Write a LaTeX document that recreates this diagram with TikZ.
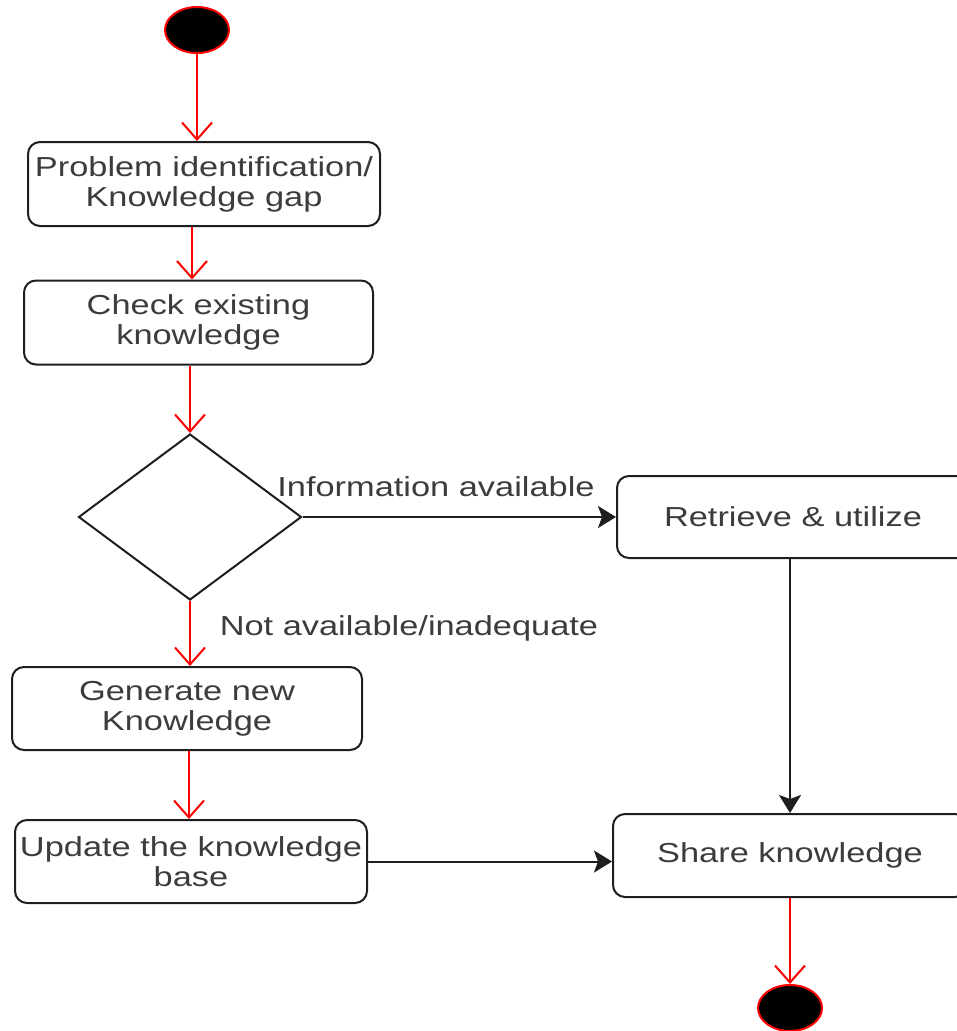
\documentclass[tikz,border=0pt]{standalone}
\usepackage{fontspec}
\setmainfont[FakeStretch=1.25]{Liberation Sans}
\usetikzlibrary{shapes.geometric,arrows.meta}
\definecolor{textgray}{RGB}{60,60,60}
\definecolor{linegray}{RGB}{30,30,30}
\begin{document}
\begin{tikzpicture}[x=1pt,y=-1pt,
  every node/.style={inner sep=0pt},
  txt/.style={text=textgray,font=\fontsize{27.5}{30}\selectfont,align=center},
  act/.style={txt,draw=linegray,line width=2pt,rounded corners=12pt,
              minimum width=#1,minimum height=84pt},
  terminal/.style={ellipse,fill=black,draw=red,line width=2pt,
                   minimum width=64pt,minimum height=46pt},
  decision/.style={diamond,draw=linegray,line width=2pt,
                   minimum width=223pt,minimum height=166pt},
  redflow/.style={draw=red,line width=2pt,-{Straight Barb[length=17pt,width=30pt]}},
  blackflow/.style={draw=linegray,line width=2pt,-{Stealth[length=18pt,width=22pt,inset=4pt]}}
]
\useasboundingbox (0,0) rectangle (957,1031);

% activity nodes
\node[terminal] (start) at (197,30) {};
\node[act=352pt] (b1) at (204,184) {Problem identification/\\Knowledge gap};
\node[act=349pt] (b2) at (198.5,322.5) {Check existing\\knowledge};
\node[decision] (dec) at (190,517) {};
\node[act=352pt,minimum height=82pt] (ret) at (793,517) {Retrieve \& utilize};
\node[act=350pt,minimum height=83pt] (gen) at (187,708.5) {Generate new\\Knowledge};
\node[act=352pt,minimum height=83pt] (upd) at (191,861.5) {Update the knowledge\\base};
\node[act=354pt,minimum height=83pt] (share) at (790,855.5) {Share knowledge};
\node[terminal] (end) at (790,1008) {};

% guard labels
\node[txt] (lblA) at (436,487) {Information available};
\node[txt] (lblB) at (409,628) {Not available/inadequate};

% control flow
\draw[redflow] (start) -- (start |- b1.north);
\draw[redflow] ([xshift=-12pt]b1.south) -- ([xshift=-12pt]b1.south |- b2.north);
\draw[redflow] (dec.north |- b2.south) -- (dec.north);
\draw[redflow] (dec.south) -- (dec.south |- gen.north);
\draw[redflow] ([xshift=2pt]gen.south) -- ([xshift=2pt]gen.south |- upd.north);
\draw[blackflow] (dec.east) -- (dec.east -| ret.west);
\draw[blackflow] (share.north |- ret.south) -- (share.north);
\draw[blackflow] (upd.east) -- (upd.east -| share.west);
\draw[redflow] (share.south) -- (end.north);
\end{tikzpicture}
\end{document}
